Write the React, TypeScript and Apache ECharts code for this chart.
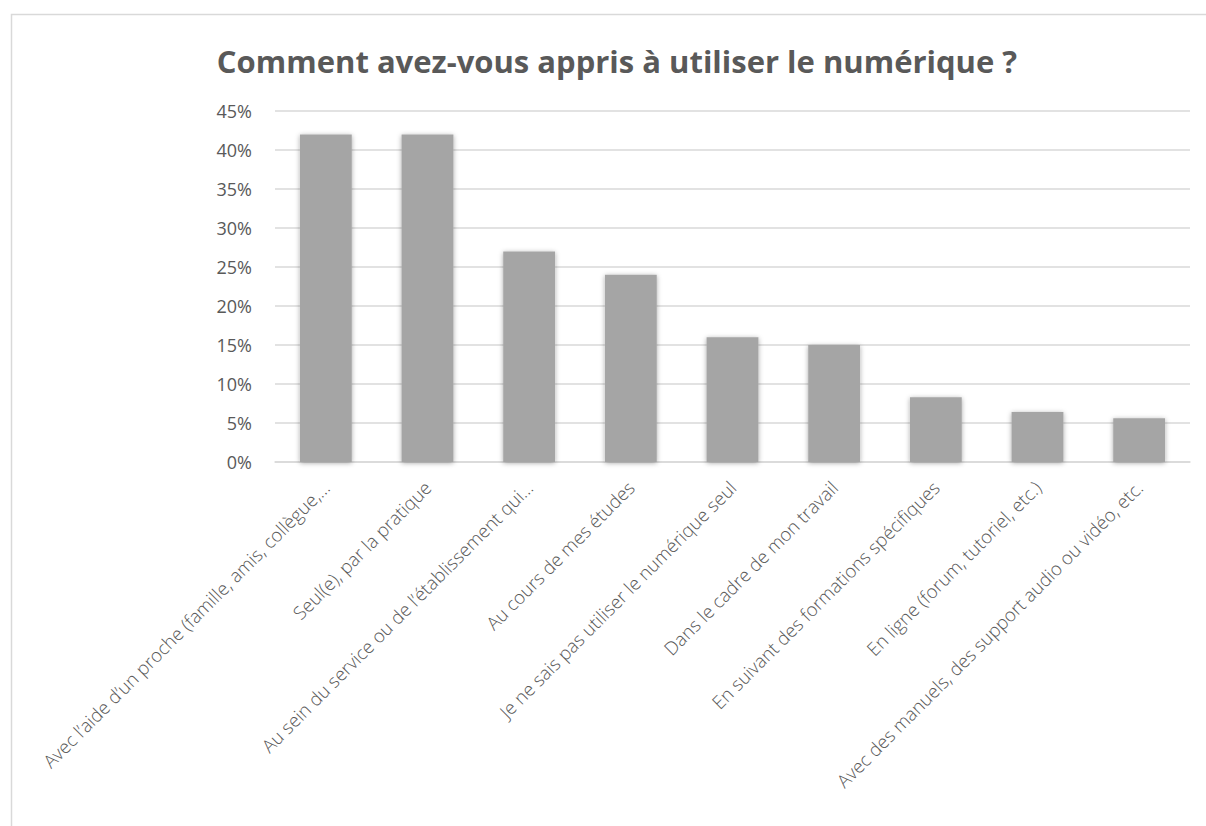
import React, { useEffect, useRef } from "react";
import * as echarts from "echarts";

const title = "Comment avez-vous appris à utiliser le numérique ?";
const categories = [
  "Avec l’aide d’un proche (famille, amis, collègue,…",
  "Seul(e), par la pratique",
  "Au sein du service ou de l’établissement qui…",
  "Au cours de mes études",
  "Je ne sais pas utiliser le numérique seul",
  "Dans le cadre de mon travail",
  "En suivant des formations spécifiques",
  "En ligne (forum, tutoriel, etc.)",
  "Avec des manuels, des support audio ou vidéo, etc.",
];
const values = [42, 42, 27, 24, 16, 15, 8.3, 6.4, 5.6];
const yMin = 0;
const yMax = 45;
const yInterval = 5;

export default function App() {
  const ref = useRef<HTMLDivElement>(null);
  useEffect(() => {
    if (!ref.current) return;
    const chart = echarts.init(ref.current, null, { renderer: "svg" });
    chart.setOption({
      animation: false,
      backgroundColor: "#ffffff",
      title: {
        text: title,
        left: 612,
        top: 40,
        textAlign: "center",
        textStyle: {
          fontFamily: "Open Sans",
          fontWeight: "bold",
          fontSize: 31,
          color: "#595959",
        },
      },
      graphic: [
        {
          type: "rect",
          left: 9,
          top: 12,
          shape: { width: 1300, height: 900 },
          style: { fill: "none", stroke: "#d9d9d9", lineWidth: 1.5 },
          silent: true,
        },
      ],
      grid: { left: 275, right: 16, top: 111, bottom: 364, containLabel: false },
      xAxis: {
        type: "category",
        data: categories,
        axisLine: { show: true, lineStyle: { color: "#d9d9d9", width: 1.5 } },
        axisTick: { show: false },
        axisLabel: {
          interval: 0,
          rotate: 45,
          margin: 22,
          fontFamily: "Open Sans",
          fontWeight: 300,
          fontSize: 18.5,
          color: "#595959",
        },
      },
      yAxis: {
        type: "value",
        min: yMin,
        max: yMax,
        interval: yInterval,
        axisLine: { show: false },
        axisTick: { show: false },
        splitLine: { lineStyle: { color: "#d9d9d9", width: 1.5 } },
        axisLabel: {
          formatter: "{value}%",
          margin: 23,
          fontFamily: "Open Sans",
          fontSize: 18,
          color: "#595959",
        },
      },
      series: [
        {
          type: "bar",
          data: values,
          barWidth: "51%",
          itemStyle: {
            color: "#a5a5a5",
            shadowBlur: 5,
            shadowColor: "rgba(0,0,0,0.35)",
            shadowOffsetY: 1,
          },
        },
      ],
    });
    return () => chart.dispose();
  }, []);
  return (
    <div
      ref={ref}
      style={{ position: "absolute", left: 0, top: 0, width: 1206, height: 826 }}
    />
  );
}
